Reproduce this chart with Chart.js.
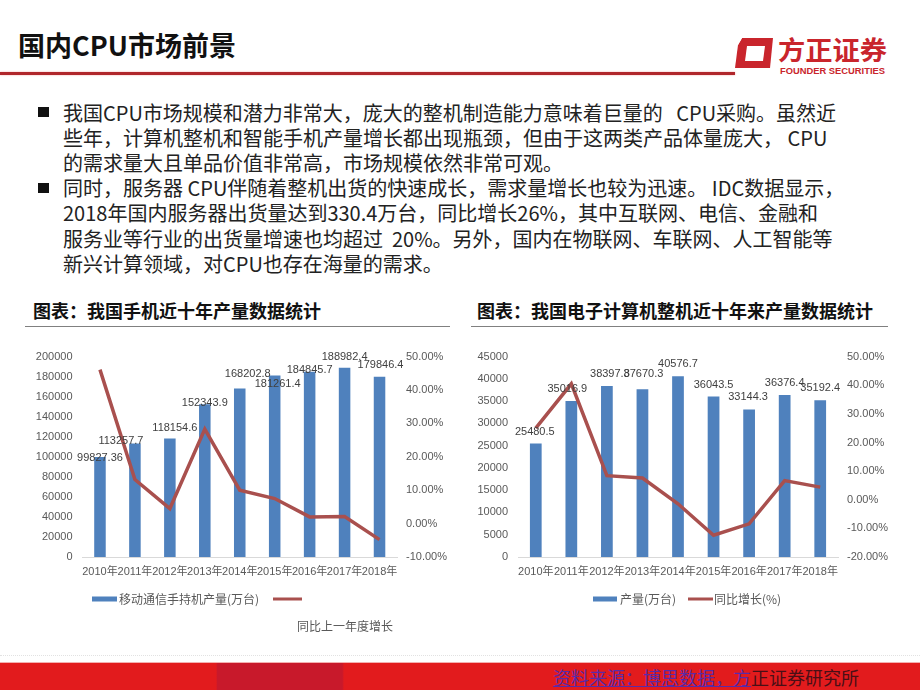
<!DOCTYPE html>
<html><head><meta charset="utf-8">
<script src="https://cdn.jsdelivr.net/npm/chart.js@4.4.0/dist/chart.umd.min.js"></script>
<style>
html,body{margin:0;padding:0;background:#fff;}
body{width:920px;height:690px;position:relative;overflow:hidden;font-family:"Noto Sans CJK SC",sans-serif;}
.abs{position:absolute;}
#title{left:18px;top:31px;font-size:27px;line-height:27px;font-weight:700;color:#111;white-space:nowrap;}
#redline{left:0;top:72px;width:735px;height:3px;background:#b0262b;box-shadow:0 0 2px #f0a0a0;}
.ln{position:absolute;left:63px;font-size:20px;line-height:25px;height:25px;color:#222;white-space:nowrap;}
.bullet{position:absolute;left:38px;width:11px;height:10px;background:#111;}
.ctitle{position:absolute;font-size:18px;line-height:18px;font-weight:700;color:#111;white-space:nowrap;}
.uline{position:absolute;height:1.5px;background:#808080;}
#dots{left:0;top:655px;width:920px;height:0;border-top:1px dotted #e2e2e2;}
#footer{left:0;top:662px;width:920px;height:28px;background:linear-gradient(90deg,#e21b1d 0,#e21b1d 23.5%,#c8192b 23.6%,#c8192b 37.2%,#e21b1d 37.4%,#e21b1d 100%);border-top:1px solid #f4b0b0;box-sizing:border-box;}
#ftext{position:absolute;left:553px;top:3px;font-size:18px;line-height:22px;white-space:nowrap;color:#4a0f16;}
#ftext .lk{color:#5a2aa8;text-decoration:underline;}
canvas{position:absolute;}
</style>
</head>
<body>
<div id="title" class="abs">国内CPU市场前景</div>
<div id="redline" class="abs"></div>
<svg class="abs" style="left:720px;top:25px" width="200" height="60" viewBox="0 0 200 60">
  <path d="M22 13 L53 13 L50 43 L15 43 L18 20 Z" fill="#c9252c"/>
  <path d="M27 21 L45 21 L43 36 L25 36 Z" fill="#fff"/>
  <path d="M15 13 L22 13 L18 20 Z" fill="#fff"/>
  <text x="58" y="35" font-family="Noto Sans CJK SC" font-weight="700" font-size="26" fill="#c9252c" textLength="109" lengthAdjust="spacingAndGlyphs">方正证券</text>
  <text x="60" y="49" font-family="Liberation Sans" font-weight="700" font-size="8.5" fill="#c9252c" textLength="105" lengthAdjust="spacingAndGlyphs">FOUNDER SECURITIES</text>
</svg>

<div class="bullet" style="top:107px"></div>
<div class="bullet" style="top:183px"></div>
<div class="ln" style="top:99.5px">我国CPU市场规模和潜力非常大，庞大的整机制造能力意味着巨量的&nbsp;&nbsp;&nbsp;CPU采购。虽然近</div>
<div class="ln" style="top:124.7px">些年，计算机整机和智能手机产量增长都出现瓶颈，但由于这两类产品体量庞大，&nbsp;CPU</div>
<div class="ln" style="top:149.9px">的需求量大且单品价值非常高，市场规模依然非常可观。</div>
<div class="ln" style="top:175.1px">同时，服务器 CPU伴随着整机出货的快速成长，需求量增长也较为迅速。 IDC数据显示，</div>
<div class="ln" style="top:200.3px">2018年国内服务器出货量达到330.4万台，同比增长26%，其中互联网、电信、金融和</div>
<div class="ln" style="top:225.5px">服务业等行业的出货量增速也均超过&nbsp;&nbsp;20%。另外，国内在物联网、车联网、人工智能等</div>
<div class="ln" style="top:250.7px">新兴计算领域，对CPU也存在海量的需求。</div>

<div class="ctitle" style="left:33px;top:301px">图表：我国手机近十年产量数据统计</div>
<div class="uline" style="left:25px;top:325.5px;width:425px"></div>
<div class="ctitle" style="left:477px;top:301px">图表：我国电子计算机整机近十年来产量数据统计</div>
<div class="uline" style="left:471px;top:325.5px;width:417px"></div>

<canvas id="c1" width="430" height="300" style="left:20px;top:340px;width:430px;height:300px"></canvas>
<canvas id="c2" width="455" height="300" style="left:465px;top:340px;width:455px;height:300px"></canvas>

<div id="dots" class="abs"></div>
<div id="footer" class="abs"><div id="ftext"><span class="lk">资料来源：博思数据，方</span>正证券研究所</div></div>

<script>
// ---- data ----
const years = ['2010年','2011年','2012年','2013年','2014年','2015年','2016年','2017年','2018年'];
const phoneOutput = [99827.36, 113257.7, 118154.6, 152343.9, 168202.8, 181261.4, 184845.7, 188982.4, 179846.4];
const phoneGrowth = [46.1, 13.2, 4.5, 28.3, 10.0, 7.5, 2.0, 2.1, -4.8];
const pcOutput = [25480.5, 35016.9, 38397.8, 37670.3, 40576.7, 36043.5, 33144.3, 36376.4, 35192.4];
const pcGrowth = [25.0, 40.5, 8.4, 7.6, -1.4, -12.4, -8.4, 6.7, 4.4];
const phoneLeftTicks = {min:0, max:200000, step:20000};
const phoneRightTicks = {min:-10, max:50, step:10};
const pcLeftTicks = {min:0, max:45000, step:5000};
const pcRightTicks = {min:-20, max:50, step:10};

const NUM_FONT = '"Liberation Sans", Arial, "Noto Sans CJK SC", sans-serif';
const BAR_COLOR = '#4f81bd';
const LINE_COLOR = '#a9504e';
const TXT = '#595959';

const barLabels = {
  id:'barLabels',
  afterDatasetsDraw(chart, args, opts){
    const meta = chart.getDatasetMeta(0);
    const ds = chart.data.datasets[0];
    const ctx = chart.ctx;
    ctx.save();
    ctx.font = '11px ' + NUM_FONT;
    ctx.fillStyle = '#404040';
    ctx.textAlign = 'center';
    ctx.textBaseline = 'middle';
    meta.data.forEach((bar,i)=>{
      const n = (opts.nudge && opts.nudge[i]) || [0,0];
      ctx.fillText(String(ds.data[i]), bar.x + n[0], bar.y + opts.dy + n[1]);
    });
    ctx.restore();
  }
};

const customLegend = {
  id:'customLegend',
  afterDraw(chart, args, opts){
    const ctx = chart.ctx;
    ctx.save();
    ctx.font = '12px "Noto Sans CJK SC", sans-serif';
    ctx.textBaseline = 'middle';
    (opts.items||[]).forEach((it,i)=>{
      const ds = chart.data.datasets[i];
      ctx.fillStyle = ds.type === 'line' ? ds.borderColor : ds.backgroundColor;
      ctx.fillRect(it.sx, it.sy - it.sh/2, it.sw, it.sh);
      ctx.fillStyle = TXT;
      ctx.textAlign = it.align || 'left';
      ctx.fillText(ds.label, it.tx, it.ty);
    });
    ctx.restore();
  }
};

function makeConfig(barData, lineData, barLabel, lineLabel, lt, rt, leftW, rightW, labelOpts, legendItems){
  const tickFont = {size:11, family:NUM_FONT};
  return {
    type:'bar',
    data:{
      labels: years,
      datasets:[
        {type:'bar', label:barLabel, data:barData, backgroundColor:BAR_COLOR, borderWidth:0,
         barPercentage:0.33, categoryPercentage:1.0, yAxisID:'y', order:1},
        {type:'line', label:lineLabel, data:lineData, borderColor:LINE_COLOR, backgroundColor:LINE_COLOR,
         borderWidth:3.5, pointRadius:0, tension:0, yAxisID:'y1', order:0}
      ]
    },
    options:{
      responsive:false, animation:false,
      layout:{padding:{top:15, bottom:58, left:0, right:0}},
      plugins:{legend:{display:false}, tooltip:{enabled:false},
        barLabels: labelOpts, customLegend:{items:legendItems}},
      scales:{
        x:{grid:{display:false, drawTicks:false}, border:{display:true, color:'#d9d9d9', width:1},
           ticks:{autoSkip:false, maxRotation:0, minRotation:0, padding:8, color:TXT, font:tickFont},
           afterFit(s){ s.height = 25; }},
        y:{position:'left', min:lt.min, max:lt.max,
           grid:{display:false, drawTicks:false}, border:{display:false},
           ticks:{stepSize:lt.step, padding:10, color:TXT, font:tickFont, callback:v=>String(v)},
           afterFit(s){ s.width = leftW; }},
        y1:{position:'right', min:rt.min, max:rt.max,
           grid:{display:false, drawTicks:false}, border:{display:false},
           ticks:{stepSize:rt.step, padding:9, color:TXT, font:tickFont, callback:v=>v.toFixed(2)+'%'},
           afterFit(s){ s.width = rightW; }}
      }
    },
    plugins:[barLabels, customLegend]
  };
}

new Chart(document.getElementById('c1'), makeConfig(
  phoneOutput, phoneGrowth, '移动通信手持机产量(万台)', '同比上一年度增长',
  phoneLeftTicks, phoneRightTicks, 62.5, 53,
  {dy:0, nudge:[[0,1],[-14,-3],[5,-11],[0,-1],[8,-14],[3,9],[0,-2],[0,-11],[1,-12]]},
  [{sx:72, sy:259, sw:25, sh:5, tx:99, ty:259},
   {sx:253, sy:259, sw:29, sh:3, tx:373, ty:286, align:'right'}]
));

new Chart(document.getElementById('c2'), makeConfig(
  pcOutput, pcGrowth, '产量(万台)', '同比增长(%)',
  pcLeftTicks, pcRightTicks, 53, 82,
  {dy:-12, nudge:[[-1,0],[-4,0],[3,0],[1,-3],[0,0],[0,0],[-1,0],[0,0],[0,0]]},
  [{sx:128, sy:259, sw:24, sh:5, tx:155, ty:259},
   {sx:223, sy:259, sw:25, sh:3, tx:249, ty:259}]
));
</script>
</body></html>
